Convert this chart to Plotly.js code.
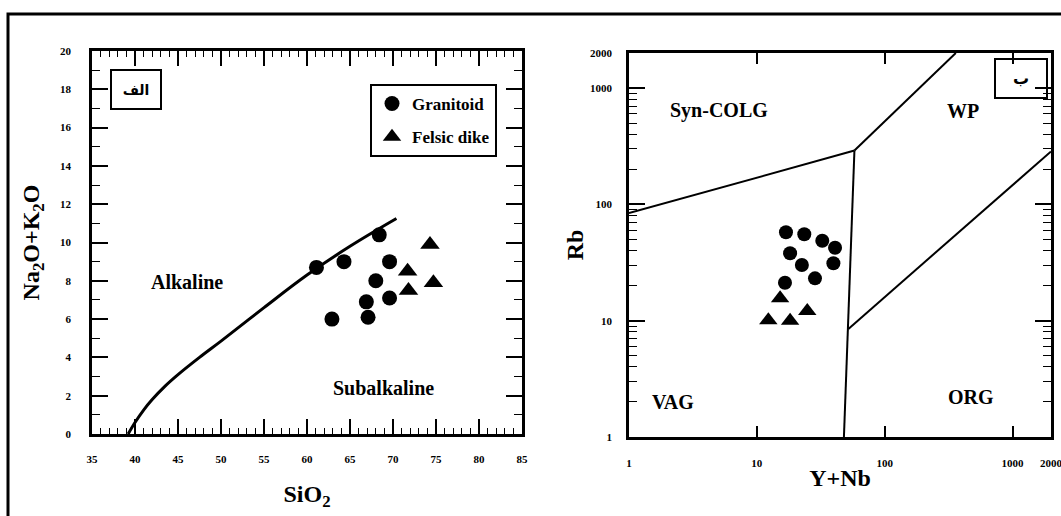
<!DOCTYPE html>
<html><head><meta charset="utf-8">
<script src="https://cdn.plot.ly/plotly-3.0.1.min.js"></script>
<style>html,body{margin:0;padding:0;background:#fff;}#chart{width:1061px;height:516px;}</style>
</head><body><div id="chart"></div>
<script>
// ---- Data: TAS (alkaline / subalkaline) diagram ----
const granSiO2 = [61.1, 64.3, 68.4, 69.6, 68.0, 66.9, 67.1, 69.6, 62.9];
const granAlk  = [8.7, 9.0, 10.4, 9.0, 8.0, 6.9, 6.1, 7.1, 6.0];
const dikeSiO2 = [74.3, 71.7, 71.8, 74.7];
const dikeAlk  = [9.9, 8.5, 7.5, 7.9];
const boundarySiO2 = [39.2, 40.0, 41.0, 42.0, 43.5, 45.0, 47.5, 50.0, 55.0, 60.0, 65.0, 70.4];
const boundaryAlk  = [0, 0.6, 1.25, 1.8, 2.5, 3.1, 4.0, 4.85, 6.6, 8.3, 9.8, 11.25];
const sio2Ticks = [35, 40, 45, 50, 55, 60, 65, 70, 75, 80, 85];
const alkTicks = [0, 2, 4, 6, 8, 10, 12, 14, 16, 18, 20];

// ---- Data: Rb vs Y+Nb (Pearce) diagram ----
const granYNb = [16.9, 23.5, 32.5, 40.9, 18.2, 22.5, 39.7, 28.5, 16.6];
const granRb  = [57.5, 55.3, 48.7, 42.4, 38.0, 30.1, 31.2, 23.1, 21.2];
const dikeYNb = [15.2, 12.3, 18.2, 24.8];
const dikeRb  = [15.6, 10.1, 10.0, 12.1];
const vagColgX = [1, 58];    const vagColgY = [84, 290];
const wpColgX  = [58, 360];  const wpColgY  = [290, 2000];
const vagOrgX  = [48, 58];   const vagOrgY  = [1, 290];
const orgWpX   = [52, 2000]; const orgWpY   = [8.5, 285];
const logTicks = [1, 10, 100, 1000, 2000];
const logMinorTicks = [2, 3, 4, 5, 6, 7, 8, 9, 20, 30, 40, 50, 60, 70, 80, 90,
                       200, 300, 400, 500, 600, 700, 800, 900];

const W = 1061, H = 516;
const px = v => v / W;
const py = v => 1 - v / H;
const serif = 'Liberation Serif';
const tickFont = {family: serif, size: 11, color: '#000', weight: 'bold'};
const titleFont = {family: serif, size: 24, color: '#000', weight: 'bold'};
const labelFont = {family: serif, size: 20, color: '#000', weight: 'bold'};
const logRange = [0, Math.log10(2000)];

const boundaryLine = (x, y, xa, ya, w) => ({
  x: x, y: y, xaxis: xa, yaxis: ya, type: 'scatter', mode: 'lines',
  line: {color: '#000', width: w}, showlegend: false, hoverinfo: 'skip'
});

const traces = [
  Object.assign(boundaryLine(boundarySiO2, boundaryAlk, 'x', 'y', 3), {line: {color: '#000', width: 3, shape: 'spline', smoothing: 1}}),
  {x: granSiO2, y: granAlk, xaxis: 'x', yaxis: 'y', type: 'scatter', mode: 'markers', name: 'Granitoid',
   legendgroup: 'g', marker: {symbol: 'circle', size: 15, color: '#000'}},
  {x: dikeSiO2, y: dikeAlk, xaxis: 'x', yaxis: 'y', type: 'scatter', mode: 'markers', name: 'Felsic dike',
   legendgroup: 'd', marker: {symbol: 'triangle-up', size: 17, color: '#000'}},
  boundaryLine(vagColgX, vagColgY, 'x2', 'y2', 2),
  boundaryLine(wpColgX, wpColgY, 'x2', 'y2', 2),
  boundaryLine(vagOrgX, vagOrgY, 'x2', 'y2', 2),
  boundaryLine(orgWpX, orgWpY, 'x2', 'y2', 2),
  {x: granYNb, y: granRb, xaxis: 'x2', yaxis: 'y2', type: 'scatter', mode: 'markers', name: 'Granitoid',
   showlegend: false, marker: {symbol: 'circle', size: 14, color: '#000'}},
  {x: dikeYNb, y: dikeRb, xaxis: 'x2', yaxis: 'y2', type: 'scatter', mode: 'markers', name: 'Felsic dike',
   showlegend: false, marker: {symbol: 'triangle-up', size: 16, color: '#000'}}
];

const axBase = {
  showline: true, linewidth: 2.5, linecolor: '#000', mirror: 'ticks',
  ticks: 'inside', tickcolor: '#000', tickwidth: 2,
  showgrid: false, zeroline: false, tickfont: tickFont,
  ticklabeloverflow: 'allow'
};
const minorBase = {ticks: 'inside', tickcolor: '#000', tickwidth: 1, showgrid: false};

const layout = {
  width: W, height: H,
  margin: {l: 0, r: 0, t: 0, b: 0},
  paper_bgcolor: '#fff', plot_bgcolor: '#fff',
  showlegend: true,
  legend: {x: px(370), y: py(84), xanchor: 'left', yanchor: 'top',
           bordercolor: '#000', borderwidth: 2, bgcolor: '#fff',
           font: {family: serif, size: 17, color: '#000', weight: 'bold'},
           tracegroupgap: 8, itemwidth: 30},
  xaxis: Object.assign({}, axBase, {
    domain: [px(92), px(522)], range: [35, 85], anchor: 'y',
    tickmode: 'array', tickvals: sio2Ticks, ticklen: 15,
    minor: Object.assign({}, minorBase, {dtick: 1, tick0: 35, ticklen: 6}),
    ticklabelstandoff: 13,
    title: {text: 'SiO<sub>2</sub>', font: titleFont, standoff: 22}
  }),
  yaxis: Object.assign({}, axBase, {
    domain: [py(434), py(51)], range: [0, 20], anchor: 'x',
    tickmode: 'array', tickvals: alkTicks, ticklen: 16,
    minor: Object.assign({}, minorBase, {dtick: 1, tick0: 0, ticklen: 8}),
    ticklabelstandoff: 16,
    title: {text: 'Na<sub>2</sub>O+K<sub>2</sub>O', font: titleFont, standoff: 14}
  }),
  xaxis2: Object.assign({}, axBase, {
    domain: [px(629), px(1051)], type: 'log', range: logRange, anchor: 'y2',
    tickmode: 'array', tickvals: logTicks, exponentformat: 'none', separatethousands: false,
    ticklen: 11, ticklabelstandoff: 14,
    title: {text: 'Y+Nb', font: titleFont, standoff: 2}
  }),
  yaxis2: Object.assign({}, axBase, {
    domain: [py(437), py(53)], type: 'log', range: logRange, anchor: 'x2',
    tickmode: 'array', tickvals: logTicks, exponentformat: 'none', separatethousands: false,
    ticklen: 16, ticklabelstandoff: 12,
    minor: Object.assign({}, minorBase, {tickmode: 'array', tickvals: logMinorTicks, ticklen: 8}),
    title: {text: 'Rb', font: titleFont, standoff: 0}
  }),
  annotations: [
    {text: 'Alkaline', x: 46.0, y: 7.95, xref: 'x', yref: 'y', showarrow: false, font: labelFont},
    {text: 'Subalkaline', x: 68.9, y: 2.39, xref: 'x', yref: 'y', showarrow: false, font: labelFont},
    {text: 'Syn-COLG', x: 0.707, y: 2.803, xref: 'x2', yref: 'y2', showarrow: false, font: labelFont},
    {text: 'WP', x: 2.611, y: 2.803, xref: 'x2', yref: 'y2', showarrow: false, font: labelFont},
    {text: 'VAG', x: 0.347, y: 0.303, xref: 'x2', yref: 'y2', showarrow: false, font: labelFont},
    {text: 'ORG', x: 2.674, y: 0.341, xref: 'x2', yref: 'y2', showarrow: false, font: labelFont},
    {text: 'الف', x: px(135.5), y: py(90), xref: 'paper', yref: 'paper', showarrow: false,
     xanchor: 'center', yanchor: 'middle',
     width: 46, height: 35, bordercolor: '#000', borderwidth: 2, bgcolor: '#fff',
     font: {family: 'DejaVu Sans', size: 14, color: '#000', weight: 'bold'}},
    {text: 'ب', x: px(1020.5), y: py(78), xref: 'paper', yref: 'paper', showarrow: false,
     xanchor: 'center', yanchor: 'middle',
     width: 48, height: 35, bordercolor: '#000', borderwidth: 2, bgcolor: 'rgba(255,255,255,0)',
     font: {family: 'DejaVu Sans', size: 16, color: '#000', weight: 'bold'}}
  ],
  shapes: [
    {type: 'path', xref: 'paper', yref: 'paper',
     path: 'M ' + px(8) + ' 0 L ' + px(8) + ' ' + py(14) + ' L 1 ' + py(14),
     line: {color: '#000', width: 3}}
  ]
};

Plotly.newPlot('chart', traces, layout, {displayModeBar: false});
</script></body></html>
